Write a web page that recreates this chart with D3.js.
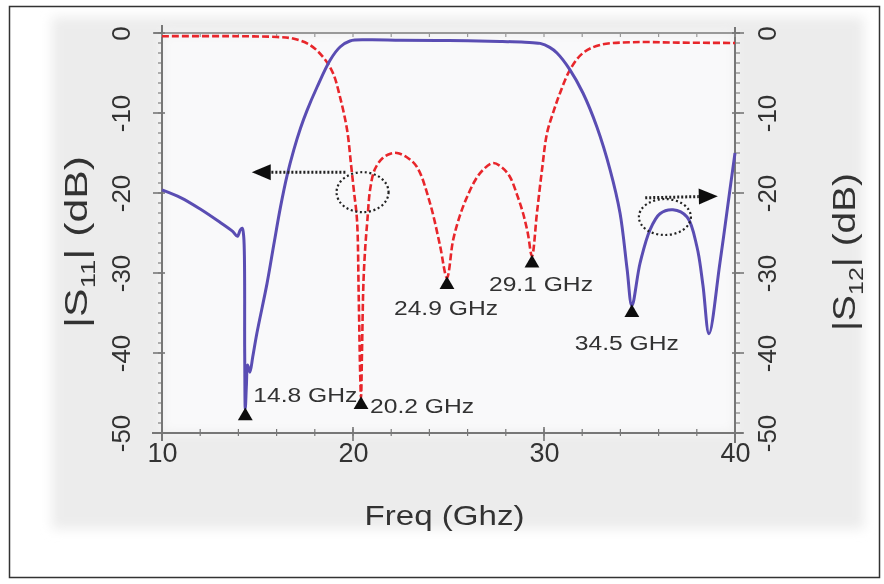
<!DOCTYPE html>
<html>
<head>
<meta charset="utf-8">
<script src="https://cdn.jsdelivr.net/npm/d3@7"></script>
<style>
  html, body { margin: 0; padding: 0; background: #fff; }
  svg { display: block; }
  text { font-family: "Liberation Sans", Arial, Helvetica, sans-serif; fill: #333; }
</style>
</head>
<body>
<svg id="chart" width="884" height="584"></svg>
<script>
// ---------------- DATA ----------------
const xTicks = [10, 20, 30, 40];
const yTicks = [0, -10, -20, -30, -40, -50];
const xTitle = "Freq (Ghz)";

// |S12| (blue, solid)
const s12Freq = [10, 11, 12, 13, 13.7, 13.95, 14.1, 14.2, 14.28, 14.33, 14.36, 14.42, 14.48, 14.6, 14.75, 14.97, 15.5, 15.85, 16.2, 16.55, 16.9, 17.25, 17.59, 18.12, 18.8, 19.32, 19.84, 20.73, 22.5, 25, 27.7, 29.0, 29.8, 30.3, 30.68, 31.36, 32.04, 32.77, 33.46, 33.98, 34.35, 34.6, 35.03, 35.55, 36.07, 36.75, 37.49, 38.01, 38.32, 38.64, 39.21, 39.74, 40];
const s12dB   = [-19.6, -20.6, -22.0, -23.6, -24.8, -25.4, -24.6, -24.4, -25.5, -40, -47, -44, -41.5, -42.4, -40.5, -37.5, -31.3, -26.5, -21.8, -17.8, -14.6, -11.9, -9.7, -6.75, -3.4, -1.75, -1.0, -0.85, -0.9, -0.95, -1.05, -1.15, -1.3, -1.8, -2.5, -4.6, -7.5, -11.75, -17.1, -22.5, -29.5, -34.1, -28.75, -24.6, -22.6, -22.1, -23, -26.75, -31.5, -37.6, -28.75, -19.5, -15];

// |S11| (red, dashed)
const s11Freq = [10, 14, 16, 16.86, 17.75, 18.43, 18.95, 19.32, 19.69, 19.9, 20.05, 20.21, 20.3, 20.38, 20.42, 20.47, 20.55, 20.65, 20.75, 20.9, 21.15, 21.57, 22.0, 22.3, 22.8, 23.35, 24.03, 24.55, 24.92, 25.24, 25.6, 25.97, 26.4, 26.81, 27.33, 27.8, 28.22, 28.6, 28.9, 29.15, 29.37, 29.63, 29.9, 30.16, 30.5, 30.84, 31.36, 32.04, 32.93, 34.66, 37, 40];
const s11dB   = [-0.4, -0.4, -0.5, -0.7, -1.5, -3, -5, -8, -12.1, -16.5, -19.8, -23.4, -33, -43, -45.6, -40, -31, -26.5, -23.5, -19.5, -17, -15.6, -15.05, -15, -15.5, -16.75, -21.25, -26.5, -30.6, -25.9, -22.8, -20.5, -18.4, -17.1, -16.25, -16.8, -18, -20.3, -22.5, -25, -27.9, -22.5, -17, -12.5, -9.8, -7.5, -4.6, -2.5, -1.5, -1.15, -1.2, -1.25];

// marked minima
const markerFreq  = [14.36, 20.42, 24.92, 29.37, 34.6];
const markerdB    = [-47, -45.6, -30.6, -27.9, -34.1];
const markerLabel = ["14.8 GHz", "20.2 GHz", "24.9 GHz", "29.1 GHz", "34.5 GHz"];

// dotted ellipses (centre freq, centre dB)
const ellipseFreq = [20.5, 36.33];
const ellipsedB   = [-19.9, -23];
// arrows (from -> to, in data units)
const arrowFrom = [[19.6, -17.4], [35.3, -20.6]];
const arrowTo   = [[14.7, -17.4], [39.1, -20.4]];

// ---------------- LAYOUT ----------------
const svg = d3.select("#chart");
const x = d3.scaleLinear().domain([10, 40]).range([162, 735]);
const y = d3.scaleLinear().domain([-50, 0]).range([433, 33]);

const defs = svg.append("defs");
const soft = defs.append("filter").attr("id", "soft").attr("x", "-5%").attr("y", "-5%").attr("width", "110%").attr("height", "110%");
soft.append("feGaussianBlur").attr("stdDeviation", 0.55);
const bgBlur = defs.append("filter").attr("id", "bgblur").attr("x", "-10%").attr("y", "-10%").attr("width", "120%").attr("height", "120%");
bgBlur.append("feGaussianBlur").attr("stdDeviation", 6);
const txtSoft = defs.append("filter").attr("id", "txtsoft");
txtSoft.append("feGaussianBlur").attr("stdDeviation", 0.4);

svg.append("rect").attr("width", 884).attr("height", 584).attr("fill", "#fff");
// scanned figure background
svg.append("rect").attr("x", 52).attr("y", 17).attr("width", 812).attr("height", 512)
  .attr("fill", "#ececec").attr("filter", "url(#bgblur)");
svg.append("rect").attr("x", x(10)).attr("y", y(0)).attr("width", x(40) - x(10)).attr("height", y(-50) - y(0))
  .attr("fill", "#f9f9fa").attr("filter", "url(#bgblur)");

// outer border
svg.append("rect").attr("x", 9.5).attr("y", 6.5).attr("width", 870).attr("height", 571)
  .attr("fill", "none").attr("stroke", "#333").attr("stroke-width", 1.5);

const g = svg.append("g").attr("filter", "url(#soft)");

// frame lines
const frameColor = "#777";
g.append("line").attr("x1", x(10) - 10).attr("x2", x(40) + 8).attr("y1", y(-50)).attr("y2", y(-50)).attr("stroke", frameColor).attr("stroke-width", 2);
g.append("line").attr("x1", x(10) - 8).attr("x2", x(40) + 5).attr("y1", y(0)).attr("y2", y(0)).attr("stroke", "#999").attr("stroke-width", 2);
g.append("line").attr("x1", x(10)).attr("x2", x(10)).attr("y1", y(0) - 8).attr("y2", y(-50) + 8).attr("stroke", frameColor).attr("stroke-width", 2);
g.append("line").attr("x1", x(40)).attr("x2", x(40)).attr("y1", y(0) - 6).attr("y2", y(-50) + 10).attr("stroke", frameColor).attr("stroke-width", 2);

// minor ticks
const minorX = d3.range(10, 40.01, 2);
g.selectAll(".mxb").data(minorX).join("line")
  .attr("x1", d => x(d)).attr("x2", d => x(d)).attr("y1", y(-50) - 4).attr("y2", y(-50) + 3)
  .attr("stroke", frameColor).attr("stroke-width", 1.2);
g.selectAll(".mxt").data(minorX).join("line")
  .attr("x1", d => x(d)).attr("x2", d => x(d)).attr("y1", y(0)).attr("y2", y(0) + 4)
  .attr("stroke", "#999").attr("stroke-width", 1.2);
g.selectAll(".majx").data(xTicks).join("line")
  .attr("x1", d => x(d)).attr("x2", d => x(d)).attr("y1", y(-50) - 6).attr("y2", y(-50) + 8)
  .attr("stroke", frameColor).attr("stroke-width", 1.6);
const minorY = d3.range(-50, 0.01, 1.25);
g.selectAll(".myl").data(minorY).join("line")
  .attr("x1", x(10) - 4).attr("x2", x(10)).attr("y1", d => y(d)).attr("y2", d => y(d))
  .attr("stroke", frameColor).attr("stroke-width", 1.1);
g.selectAll(".myr").data(minorY).join("line")
  .attr("x1", x(40)).attr("x2", x(40) + 5).attr("y1", d => y(d)).attr("y2", d => y(d))
  .attr("stroke", frameColor).attr("stroke-width", 1.1);
g.selectAll(".majyl").data(yTicks).join("line")
  .attr("x1", x(10) - 9).attr("x2", x(10) + 3).attr("y1", d => y(d)).attr("y2", d => y(d))
  .attr("stroke", frameColor).attr("stroke-width", 1.6);
g.selectAll(".majyr").data(yTicks).join("line")
  .attr("x1", x(40) - 3).attr("x2", x(40) + 9).attr("y1", d => y(d)).attr("y2", d => y(d))
  .attr("stroke", frameColor).attr("stroke-width", 1.6);

// axes via d3 axis generators (labels only); plain hyphen-minus like the reference
const fmt = d => String(d);
const tg = svg.append("g").attr("filter", "url(#txtsoft)");
const xAxis = tg.append("g").attr("transform", `translate(0,${y(-50)})`)
  .call(d3.axisBottom(x).tickValues(xTicks).tickFormat(fmt).tickSize(0).tickPadding(0));
xAxis.select(".domain").remove();
xAxis.selectAll("text").attr("y", 29).attr("dy", "0").attr("font-size", 27).attr("fill", "#2e2e2e")
  .style("font-family", "Liberation Sans, Arial, sans-serif");

const yAxisL = tg.append("g").attr("transform", `translate(${x(10)},0)`)
  .call(d3.axisLeft(y).tickValues(yTicks).tickFormat(fmt).tickSize(0));
yAxisL.select(".domain").remove();
yAxisL.selectAll("text").attr("x", 0).attr("dy", 0).attr("text-anchor", "middle")
  .attr("transform", "translate(-32,0) rotate(-90)").attr("font-size", 26).attr("fill", "#2e2e2e")
  .style("font-family", "Liberation Sans, Arial, sans-serif");

const yAxisR = tg.append("g").attr("transform", `translate(${x(40)},0)`)
  .call(d3.axisRight(y).tickValues(yTicks).tickFormat(fmt).tickSize(0));
yAxisR.select(".domain").remove();
yAxisR.selectAll("text").attr("x", 0).attr("dy", 0).attr("text-anchor", "middle")
  .attr("transform", "translate(41,0) rotate(-90)").attr("font-size", 26).attr("fill", "#2e2e2e")
  .style("font-family", "Liberation Sans, Arial, sans-serif");

// axis titles
tg.append("text").attr("x", (x(10) + x(40)) / 2 - 4).attr("y", 525).attr("text-anchor", "middle")
  .attr("font-size", 28).attr("textLength", 160).attr("lengthAdjust", "spacingAndGlyphs").attr("fill", "#2e2e2e").text(xTitle);

function yTitle(cx, cy, len, sub) {
  const t = tg.append("text").attr("transform", `translate(${cx},${cy}) rotate(-90)`)
    .attr("text-anchor", "middle").attr("font-size", 31).attr("fill", "#2e2e2e")
    .attr("textLength", len).attr("lengthAdjust", "spacingAndGlyphs");
  t.append("tspan").text("|S");
  t.append("tspan").attr("font-size", 20).attr("dy", 8).text(sub);
  t.append("tspan").attr("dy", -8).text("| (dB)");
}
yTitle(87, 242, 172, "11");
yTitle(855, 252, 158, "12");

// curves
const line = d3.line().x(d => x(d[0])).y(d => y(d[1])).curve(d3.curveCatmullRom.alpha(0.5));
const s12 = s12Freq.map((f, i) => [f, s12dB[i]]);
const s11 = s11Freq.map((f, i) => [f, s11dB[i]]);

g.append("path").datum(s11).attr("d", line).attr("fill", "none")
  .attr("stroke", "#e8262c").attr("stroke-width", 2.6).attr("stroke-dasharray", "7,3");
g.append("path").datum(s12).attr("d", line).attr("fill", "none")
  .attr("stroke", "#5a4db3").attr("stroke-width", 3).attr("stroke-linejoin", "round");

// markers
const tri = d3.symbol().type(d3.symbolTriangle).size(95);
g.selectAll(".mk").data(markerFreq).join("path")
  .attr("d", tri).attr("fill", "#111")
  .attr("transform", (d, i) => `translate(${x(d)},${y(markerdB[i]) + 7})`);

// marker labels: offsets relative to marker
const labelOffsets = [[8, -14, "start"], [9, 8, "start"], [-1, 30, "middle"], [9, 28, "middle"], [-5, 37, "middle"]];
tg.selectAll(".ml").data(markerLabel).join("text")
  .attr("x", (d, i) => x(markerFreq[i]) + labelOffsets[i][0])
  .attr("y", (d, i) => y(markerdB[i]) + labelOffsets[i][1] + 7)
  .attr("text-anchor", (d, i) => labelOffsets[i][2])
  .attr("font-size", 20).attr("textLength", 104).attr("lengthAdjust", "spacingAndGlyphs")
  .attr("fill", "#333").text(d => d);

// dotted ellipses
g.selectAll(".el").data(ellipseFreq).join("ellipse")
  .attr("cx", d => x(d)).attr("cy", (d, i) => y(ellipsedB[i]))
  .attr("rx", 26).attr("ry", (d, i) => i === 0 ? 20 : 18)
  .attr("fill", "none").attr("stroke", "#222").attr("stroke-width", 2.2).attr("stroke-dasharray", "2,2.6");

// dotted arrows
arrowFrom.forEach((a, i) => {
  const x1 = x(a[0]), y1 = y(a[1]), x2 = x(arrowTo[i][0]), y2 = y(arrowTo[i][1]);
  const ang = Math.atan2(y2 - y1, x2 - x1);
  const hl = 19, hw = 8;
  const bx = x2 - hl * Math.cos(ang), by = y2 - hl * Math.sin(ang);
  g.append("line").attr("x1", x1).attr("y1", y1).attr("x2", bx).attr("y2", by)
    .attr("stroke", "#222").attr("stroke-width", 3).attr("stroke-dasharray", "2,2");
  g.append("path").attr("d", `M${x2},${y2}L${bx + hw * Math.sin(ang)},${by - hw * Math.cos(ang)}L${bx - hw * Math.sin(ang)},${by + hw * Math.cos(ang)}Z`)
    .attr("fill", "#111");
});
</script>
</body>
</html>
